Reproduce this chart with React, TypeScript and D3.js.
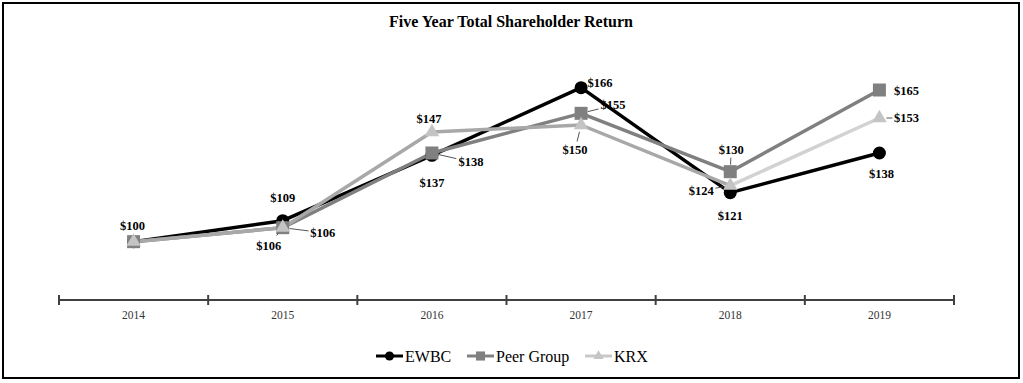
import React from "react";
import * as d3 from "d3";

const years = ["2014", "2015", "2016", "2017", "2018", "2019"];
const ewbc = [100, 109, 137, 166, 121, 138];
const peer = [100, 106, 138, 155, 130, 165];
const krx = [100, 106, 147, 150, 124, 153];
const seriesNames = ["EWBC", "Peer Group", "KRX"];

// label placement (style): [dx, dy, showLabel, leader]
const ewbcLabelPos: [number, number, boolean, boolean][] = [
  [-1, -16, true, false], [0, -23, true, false], [0, 28, true, false],
  [19, -5, true, false], [0, 23, true, false], [2, 21, true, false],
];
const peerLabelPos: [number, number, boolean, boolean][] = [
  [0, 0, false, false], [40, 5, true, true], [39, 9, true, true],
  [32, -8, true, true], [1, -22, true, true], [27, 1, true, false],
];
const krxLabelPos: [number, number, boolean, boolean][] = [
  [0, 0, false, false], [-14, 18, true, true], [-3, -13, true, false],
  [-6, 25, true, true], [-29, 5, true, true], [27, 0, true, true],
];

const W = 1023, H = 383;
const serif = "'Times New Roman', 'Liberation Serif', 'DejaVu Serif', serif";

export default function App() {
  const x = d3.scaleBand<string>().domain(years).range([59, 954]);
  const y = d3.scaleLinear().domain([75, 180]).range([300, 55]);
  const cx = (i: number) => (x(years[i]) as number) + x.bandwidth() / 2;

  const line = d3.line<number>().x((_, i) => cx(i)).y((v) => y(v));

  const series = [
    { name: seriesNames[0], data: ewbc, color: "#000000", segColors: null as string[] | null, marker: "circle", mColor: "#000", labels: ewbcLabelPos },
    { name: seriesNames[1], data: peer, color: "#808080", segColors: null, marker: "square", mColor: "#808080", labels: peerLabelPos },
    { name: seriesNames[2], data: krx, color: "#a8a8a8", segColors: ["#a8a8a8", "#a8a8a8", "#a8a8a8", "#a8a8a8", "#d2d2d2"], marker: "triangle", mColor: "#c4c4c4", labels: krxLabelPos },
  ];

  const marker = (type: string, px: number, py: number, color: string, key: string, scale = 1) => {
    if (type === "circle") return <circle key={key} cx={px} cy={py} r={6.5 * scale} fill={color} />;
    if (type === "square") { const s = 13 * scale; return <rect key={key} x={px - s / 2} y={py - s / 2} width={s} height={s} fill={color} />; }
    const sym = d3.symbol().type(d3.symbolTriangle).size(90 * scale * scale)();
    return <path key={key} d={sym as string} transform={`translate(${px},${py})`} fill={color} />;
  };

  const drawOrder = [0, 1, 2];
  const txt = (extra: any) => ({ fontFamily: serif, ...extra });

  return (
    <div style={{ position: "absolute", left: 0, top: 0 }}>
      <svg width={W} height={H} style={{ display: "block", background: "#fff" }}>
        <rect x={3} y={3} width={1016} height={375} fill="#fff" stroke="#000" strokeWidth={2} />
        <text x={511} y={27} textAnchor="middle" style={txt({ fontWeight: "bold", fontSize: "16px" })}>
          Five Year Total Shareholder Return
        </text>

        {/* axis */}
        <line x1={59} x2={954} y1={300} y2={300} stroke="#404040" strokeWidth={2} />
        {[...years.map((yr) => x(yr) as number), 954].map((t, i) => (
          <line key={"t" + i} x1={t} x2={t} y1={295} y2={305} stroke="#404040" strokeWidth={2} />
        ))}
        {years.map((yr, i) => (
          <text key={"xl" + yr} x={cx(i)} y={319} textAnchor="middle" fill="#333" style={txt({ fontSize: "11.5px" })}>{yr}</text>
        ))}

        {/* lines */}
        {drawOrder.map((si) => {
          const s = series[si];
          if (s.segColors) {
            return (
              <g key={"l" + si}>
                {s.data.slice(0, -1).map((v, i) => (
                  <line key={i} x1={cx(i)} y1={y(v)} x2={cx(i + 1)} y2={y(s.data[i + 1])} stroke={s.segColors![i]} strokeWidth={3.5} strokeLinecap="round" />
                ))}
              </g>
            );
          }
          return <path key={"l" + si} d={line(s.data) as string} fill="none" stroke={s.color} strokeWidth={3.5} strokeLinejoin="round" />;
        })}
        {drawOrder.map((si) => {
          const s = series[si];
          return <g key={"m" + si}>{s.data.map((v, i) => marker(s.marker, cx(i), y(v), s.mColor, "mk" + i))}</g>;
        })}

        {/* labels */}
        {series.map((s, si) => (
          <g key={"lb" + si}>
            {s.data.map((v, i) => {
              const [dx, dy, show, leader] = s.labels[i];
              if (!show) return null;
              const px = cx(i), py = y(v);
              const lx = px + dx, ly = py + dy;
              let lead = null;
              if (leader) {
                const len = Math.hypot(dx, dy);
                const ux = dx / len, uy = dy / len;
                const r0 = 7;
                const r1 = Math.abs(dx) > Math.abs(dy) ? Math.abs(dx) - 14 : Math.abs(dy) - 8;
                lead = <line x1={px + ux * r0} y1={py + uy * r0} x2={px + ux * Math.max(r1, r0 + 3)} y2={py + uy * Math.max(r1, r0 + 3)} stroke="#555" strokeWidth={1} />;
              }
              return (
                <g key={i}>
                  {lead}
                  <text x={lx} y={ly} textAnchor="middle" dominantBaseline="central" style={txt({ fontWeight: "bold", fontSize: "12.5px" })}>
                    ${v}
                  </text>
                </g>
              );
            })}
          </g>
        ))}

        {/* legend */}
        {[{ x0: 376, tx: 405 }, { x0: 467, tx: 496 }, { x0: 585, tx: 614 }].map((p, i) => {
          const s = series[i];
          return (
            <g key={"lg" + i}>
              <line x1={p.x0} x2={p.x0 + 27} y1={356} y2={356} stroke={i === 2 ? "#c8c8c8" : s.color} strokeWidth={3} />
              {marker(s.marker, p.x0 + 13.5, 356, s.mColor, "lgm" + i, 0.7)}
              <text x={p.tx} y={356} dominantBaseline="central" style={txt({ fontSize: "16px" })}>{s.name}</text>
            </g>
          );
        })}
      </svg>
    </div>
  );
}
